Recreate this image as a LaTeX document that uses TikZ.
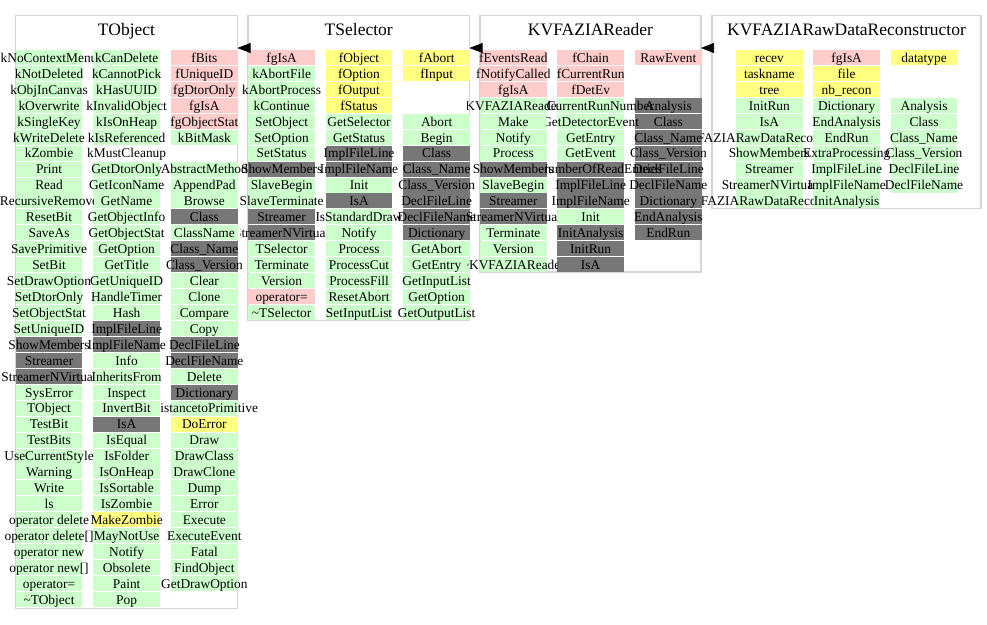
\documentclass[tikz,border=0pt]{standalone}
\usepackage{fontspec}
\setmainfont{Liberation Serif}
\usetikzlibrary{arrows.meta}

% member colours
\definecolor{cg}{HTML}{CCFFCC}   % methods
\definecolor{cp}{HTML}{FFCCCC}   % private data
\definecolor{cy}{HTML}{FFFF80}   % protected data / methods
\definecolor{cd}{HTML}{777777}   % inline / generated methods
\definecolor{boxline}{HTML}{D4D4D4}

% --- member lists: fill colour / name ---
\def\TOa{cg/kNoContextMenu, cg/kNotDeleted, cg/kObjInCanvas, cg/kOverwrite, cg/kSingleKey, cg/kWriteDelete, cg/kZombie, cg/Print, cg/Read, cg/RecursiveRemove, cg/ResetBit, cg/SaveAs, cg/SavePrimitive, cg/SetBit, cg/SetDrawOption, cg/SetDtorOnly, cg/SetObjectStat, cg/SetUniqueID, cd/ShowMembers, cd/Streamer, cd/StreamerNVirtual, cg/SysError, cg/TObject, cg/TestBit, cg/TestBits, cg/UseCurrentStyle, cg/Warning, cg/Write, cg/ls, cg/operator delete, cg/operator delete[], cg/operator new, cg/operator new[], cg/operator=, cg/\textasciitilde TObject}
\def\TOb{cg/kCanDelete, cg/kCannotPick, cg/kHasUUID, cg/kInvalidObject, cg/kIsOnHeap, cg/kIsReferenced, none/kMustCleanup, cg/GetDtorOnly, cg/GetIconName, cg/GetName, cg/GetObjectInfo, cg/GetObjectStat, cg/GetOption, cg/GetTitle, cg/GetUniqueID, cg/HandleTimer, cg/Hash, cd/ImplFileLine, cd/ImplFileName, cg/Info, cg/InheritsFrom, cg/Inspect, cg/InvertBit, cd/IsA, cg/IsEqual, cg/IsFolder, cg/IsOnHeap, cg/IsSortable, cg/IsZombie, cy/MakeZombie, cg/MayNotUse, cg/Notify, cg/Obsolete, cg/Paint, cg/Pop}
\def\TOc{cp/fBits, cp/fUniqueID, cp/fgDtorOnly, cp/fgIsA, cp/fgObjectStat, cg/kBitMask, none/{}, cg/AbstractMethod, cg/AppendPad, cg/Browse, cd/Class, cg/ClassName, cd/Class\_Name, cd/Class\_Version, cg/Clear, cg/Clone, cg/Compare, cg/Copy, cd/DeclFileLine, cd/DeclFileName, cg/Delete, cd/Dictionary, cg/DistancetoPrimitive, cy/DoError, cg/Draw, cg/DrawClass, cg/DrawClone, cg/Dump, cg/Error, cg/Execute, cg/ExecuteEvent, cg/Fatal, cg/FindObject, cg/GetDrawOption}

\def\TSa{cp/fgIsA, cg/kAbortFile, cg/kAbortProcess, cg/kContinue, cg/SetObject, cg/SetOption, cg/SetStatus, cd/ShowMembers, cg/SlaveBegin, cg/SlaveTerminate, cd/Streamer, cd/StreamerNVirtual, cg/TSelector, cg/Terminate, cg/Version, cp/operator=, cg/\textasciitilde TSelector}
\def\TSb{cy/fObject, cy/fOption, cy/fOutput, cy/fStatus, cg/GetSelector, cg/GetStatus, cd/ImplFileLine, cd/ImplFileName, cg/Init, cd/IsA, cg/IsStandardDraw, cg/Notify, cg/Process, cg/ProcessCut, cg/ProcessFill, cg/ResetAbort, cg/SetInputList}
\def\TSc{cy/fAbort, cy/fInput, none/{}, none/{}, cg/Abort, cg/Begin, cd/Class, cd/Class\_Name, cd/Class\_Version, cd/DeclFileLine, cd/DeclFileName, cd/Dictionary, cg/GetAbort, cg/GetEntry, cg/GetInputList, cg/GetOption, cg/GetOutputList}

\def\KRa{cp/fEventsRead, cp/fNotifyCalled, cp/fgIsA, cg/KVFAZIAReader, cg/Make, cg/Notify, cg/Process, cd/ShowMembers, cg/SlaveBegin, cd/Streamer, cd/StreamerNVirtual, cg/Terminate, cg/Version, cg/\textasciitilde KVFAZIAReader}
\def\KRb{cp/fChain, cp/fCurrentRun, cp/fDetEv, cg/GetCurrentRunNumber, cg/GetDetectorEvent, cg/GetEntry, cg/GetEvent, cd/GetNumberOfReadEntries, cd/ImplFileLine, cd/ImplFileName, cg/Init, cd/InitAnalysis, cd/InitRun, cd/IsA}
\def\KRc{cp/RawEvent, none/{}, none/{}, cd/Analysis, cd/Class, cd/Class\_Name, cd/Class\_Version, cd/DeclFileLine, cd/DeclFileName, cd/Dictionary, cd/EndAnalysis, cd/EndRun}

\def\RRa{cy/recev, cy/taskname, cy/tree, cg/InitRun, cg/IsA, cg/KVFAZIARawDataReconstructor, cg/ShowMembers, cg/Streamer, cg/StreamerNVirtual, cg/\textasciitilde KVFAZIARawDataReconstructor}
\def\RRb{cp/fgIsA, cy/file, cy/nb\_recon, cg/Dictionary, cg/EndAnalysis, cg/EndRun, cg/ExtraProcessing, cg/ImplFileLine, cg/ImplFileName, cg/InitAnalysis}
\def\RRc{cy/datatype, none/{}, none/{}, cg/Analysis, cg/Class, cg/Class\_Name, cg/Class\_Version, cg/DeclFileLine, cg/DeclFileName}

% one column of member cells: #1 name prefix, #2 left x, #3 list
\newcommand\memberfills[3]{%
  \foreach \s/\t [count=\i from 0] in #3 {
    \node[cellbg, fill=\s, name=#1-\i] at (#2+33.35, 57.5+15.94*\i) {};
  }}
% names of one column, cut off outside the band #4..#5
\newcommand\membertexts[5]{%
  \begin{scope}
    \clip (#4,0) rectangle (#5,624);
    \foreach \s/\t [count=\i from 0] in #3 {
      \node[celltxt, name=#1-\i-t] at (#2+33.35, 57.5+15.94*\i) {\t};
    }
  \end{scope}}

\begin{document}
\begin{tikzpicture}[x=1pt, y=-1pt,
  classbox/.style={draw=boxline, line width=1.5pt, fill=white, inner sep=0pt, outer sep=0pt},
  titletxt/.style={font=\fontsize{17.5}{20}\selectfont, inner sep=0pt, anchor=base},
  cellbg/.style={rectangle, minimum width=66.7pt, minimum height=15pt, inner sep=0pt, outer sep=0pt, draw=none},
  celltxt/.style={inner sep=0pt, font=\fontsize{13.4}{14}\selectfont, text height=11pt, text depth=1.4pt},
  inh/.style={-{Triangle[length=13pt, width=10pt]}, line width=0.6pt, black}]

\useasboundingbox (0,0) rectangle (987,624);

% class frames
\node[classbox, minimum width=222pt,   minimum height=593pt]   (TObject)  at (126.5, 312)   {};
\node[classbox, minimum width=221.5pt, minimum height=305pt]   (TSelector) at (358.75, 168) {};
\node[classbox, minimum width=221pt,   minimum height=256.5pt] (KVFAZIAReader) at (590.5, 143.75) {};
\node[classbox, minimum width=269pt,   minimum height=193pt]   (KVFAZIARawDataReconstructor) at (846.5, 112) {};

% class names
\node[titletxt] (TObject-title) at (126.5, 35.5) {TObject};
\node[titletxt] (TSelector-title) at (358.75, 35.5) {TSelector};
\node[titletxt] (KVFAZIAReader-title) at (590.5, 35.5) {KVFAZIAReader};
\node[titletxt] (KVFAZIARawDataReconstructor-title) at (846.5, 35.5) {KVFAZIARawDataReconstructor};

% cell backgrounds
\memberfills{TO1}{15.7}{\TOa}
\memberfills{TO2}{93.3}{\TOb}
\memberfills{TO3}{171.0}{\TOc}
\memberfills{TS1}{248.3}{\TSa}
\memberfills{TS2}{325.7}{\TSb}
\memberfills{TS3}{403.3}{\TSc}
\memberfills{KR1}{480.0}{\KRa}
\memberfills{KR2}{557.3}{\KRb}
\memberfills{KR3}{635.0}{\KRc}
\memberfills{RR1}{736.0}{\RRa}
\memberfills{RR2}{813.3}{\RRb}
\memberfills{RR3}{890.7}{\RRc}

% member names
\membertexts{TO1}{15.7}{\TOa}{0}{93.3}
\membertexts{TO2}{93.3}{\TOb}{82.4}{987}
\membertexts{TO3}{171.0}{\TOc}{160}{987}
\membertexts{TS1}{248.3}{\TSa}{240}{325.7}
\membertexts{TS2}{325.7}{\TSb}{315}{987}
\membertexts{TS3}{403.3}{\TSc}{392.4}{987}
\membertexts{KR1}{480.0}{\KRa}{467.5}{557.3}
\membertexts{KR2}{557.3}{\KRb}{546.7}{987}
\membertexts{KR3}{635.0}{\KRc}{624}{987}
\membertexts{RR1}{736.0}{\RRa}{702}{813.3}
\membertexts{RR2}{813.3}{\RRb}{802.7}{987}
\membertexts{RR3}{890.7}{\RRc}{880}{987}

% inheritance arrows
\draw[inh] ([yshift=-32.5pt]TSelector.north west) -- ([yshift=-32.5pt]TObject.north east);
\draw[inh] ([yshift=-32.5pt]KVFAZIAReader.north west) -- ([yshift=-32.5pt]TSelector.north east);
\draw[inh] ([yshift=-32.5pt]KVFAZIARawDataReconstructor.north west) -- ([yshift=-32.5pt]KVFAZIAReader.north east);
\end{tikzpicture}
\end{document}
